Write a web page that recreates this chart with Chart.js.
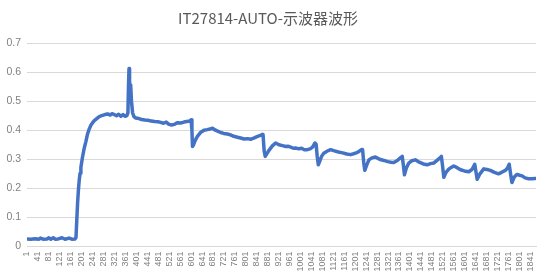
<!DOCTYPE html>
<html>
<head>
<meta charset="utf-8">
<script src="https://cdn.jsdelivr.net/npm/chart.js@4/dist/chart.umd.min.js"></script>
<style>
  html, body { margin: 0; padding: 0; background: #fff; }
  canvas { display: block; }
</style>
</head>
<body>
<canvas id="scope" width="547" height="279"></canvas>
<script>
// sample number along the capture
const sampleIndex = [
    1, 15, 30, 45, 50, 60, 75, 80, 88, 97, 105, 115, 129, 140, 155, 165, 176,
    180, 183, 186, 189, 192, 195, 198, 201, 204, 210, 216, 222, 228, 235, 241, 247,
    256, 265, 274, 283, 290, 296, 305, 312, 320, 328, 336, 344, 352, 360, 366,
    370, 372, 374, 376, 378, 380, 383, 387, 392, 399,
    410, 420, 432, 442, 455, 468, 480, 490, 500, 510, 520, 530, 539, 550, 563, 575, 585, 597, 601,
    604, 606, 610, 616, 624, 635, 648, 660, 670, 679, 690, 700, 709, 720, 734, 745, 757, 770,
    782, 795, 808, 818, 830, 842, 854, 862, 864, 868, 872,
    885, 898, 910, 922, 935, 947, 955, 965, 975, 983, 995, 1005, 1015, 1026, 1036, 1045, 1054, 1058,
    1062, 1066, 1072, 1078, 1086, 1095, 1103, 1111,
    1125, 1140, 1155, 1170, 1184, 1195, 1205, 1215, 1225, 1228, 1232, 1236, 1243, 1251, 1262, 1275,
    1290, 1306, 1320, 1332, 1342, 1355, 1366, 1373, 1377, 1381, 1388, 1397, 1408, 1421, 1435, 1450,
    1464, 1476, 1488, 1500, 1510, 1516, 1520, 1525, 1533, 1543, 1552, 1561, 1572, 1586, 1600, 1616,
    1628, 1638, 1642, 1647, 1657, 1671, 1683, 1695, 1710, 1725, 1738, 1750, 1758, 1764, 1769, 1774,
    1782, 1792, 1802, 1811, 1822, 1835, 1847, 1859
]

// waveform amplitude at each sample
const amplitude = [
    0.026, 0.025, 0.027, 0.025, 0.029, 0.025, 0.026, 0.03, 0.025, 0.03, 0.025, 0.026, 0.03, 0.025, 0.029, 0.025, 0.026,
    0.03, 0.09, 0.15, 0.195, 0.228, 0.252, 0.272, 0.29, 0.308, 0.337, 0.36, 0.386, 0.403, 0.418, 0.426, 0.433,
    0.44, 0.447, 0.45, 0.453, 0.455, 0.456, 0.452, 0.457, 0.454, 0.45, 0.455, 0.448, 0.454, 0.448, 0.45,
    0.46, 0.55, 0.612, 0.57, 0.52, 0.556, 0.5, 0.46, 0.447, 0.442,
    0.44, 0.437, 0.435, 0.434, 0.432, 0.43, 0.429, 0.427, 0.424, 0.428, 0.42, 0.418, 0.42, 0.426, 0.425, 0.428, 0.43, 0.432, 0.436,
    0.4, 0.344, 0.35, 0.365, 0.379, 0.392, 0.4, 0.402, 0.404, 0.407, 0.4, 0.396, 0.392, 0.389, 0.387, 0.384, 0.379, 0.376,
    0.373, 0.37, 0.371, 0.369, 0.373, 0.378, 0.382, 0.386, 0.385, 0.33, 0.31,
    0.33, 0.346, 0.356, 0.35, 0.347, 0.344, 0.345, 0.342, 0.338, 0.339, 0.336, 0.338, 0.333, 0.333, 0.336, 0.342, 0.356, 0.352,
    0.31, 0.281, 0.295, 0.31, 0.321, 0.326, 0.33, 0.333,
    0.329, 0.325, 0.322, 0.318, 0.316, 0.319, 0.322, 0.327, 0.334, 0.333, 0.29, 0.262, 0.28, 0.298, 0.305, 0.308,
    0.3, 0.296, 0.292, 0.29, 0.289, 0.296, 0.305, 0.31, 0.28, 0.247, 0.27, 0.287, 0.295, 0.298, 0.29, 0.284,
    0.281, 0.285, 0.287, 0.296, 0.304, 0.31, 0.28, 0.238, 0.255, 0.266, 0.272, 0.277, 0.272, 0.264, 0.26, 0.257,
    0.265, 0.283, 0.26, 0.231, 0.25, 0.267, 0.265, 0.262, 0.255, 0.25, 0.256, 0.262, 0.27, 0.283, 0.25, 0.22,
    0.238, 0.248, 0.245, 0.243, 0.236, 0.233, 0.233, 0.234
]

const xTickLabels = [
    1, 41, 81, 121, 161, 201, 241, 281, 321, 361, 401, 441, 481, 521, 561, 601,
    641, 681, 721, 761, 801, 841, 881, 921, 961, 1001, 1041, 1081, 1121, 1161, 1201, 1241,
    1281, 1321, 1361, 1401, 1441, 1481, 1521, 1561, 1601, 1641, 1681, 1721, 1761, 1801, 1841
]

const yTickLabels = [0, 0.1, 0.2, 0.3, 0.4, 0.5, 0.6, 0.7]

const chartTitle = "IT27814-AUTO-示波器波形"

var points = []
for (var i = 0; i < sampleIndex.length; i++) {
    points.push({x: sampleIndex[i], y: amplitude[i]})
}

var labelFont = "'Liberation Sans', 'Noto Sans', sans-serif"

new Chart(document.getElementById("scope").getContext("2d"), {
    type: 'line',
    data: {
        datasets: [{
            data: points,
            borderColor: '#4472C4',
            borderWidth: 3.5,
            borderJoinStyle: 'round',
            borderCapStyle: 'round',
            pointRadius: 0,
            tension: 0,
            fill: false
        }]
    },
    options: {
        responsive: false,
        animation: false,
        devicePixelRatio: 1,
        layout: {padding: {top: 0, left: 0, right: 11, bottom: 0}},
        plugins: {
            legend: {display: false},
            tooltip: {enabled: false},
            title: {
                display: true,
                text: chartTitle,
                color: '#595959',
                font: {family: "'Noto Sans CJK SC', sans-serif", size: 15, weight: 'normal'},
                padding: {top: 9, bottom: 16}
            }
        },
        scales: {
            x: {
                type: 'linear',
                min: 1,
                max: 1862,
                grid: {display: false, drawTicks: false},
                border: {display: true, color: '#d9d9d9'},
                afterBuildTicks: function(scale) {
                    scale.ticks = xTickLabels.map(v => ({value: v}))
                },
                afterFit: function(scale) { scale.height = 32.5 },
                ticks: {
                    autoSkip: false,
                    minRotation: 90,
                    maxRotation: 90,
                    padding: 5,
                    color: '#808080',
                    font: {family: labelFont, size: 9},
                    callback: v => String(v)
                }
            },
            y: {
                min: 0,
                max: 0.7,
                grid: {color: '#d9d9d9', drawTicks: false},
                border: {display: false},
                afterBuildTicks: function(scale) {
                    scale.ticks = yTickLabels.map(v => ({value: v}))
                },
                afterFit: function(scale) { scale.width = 27 },
                ticks: {
                    padding: 6,
                    color: '#808080',
                    font: {family: labelFont, size: 10.5},
                    callback: v => String(v)
                }
            }
        }
    }
})
</script>
</body>
</html>
